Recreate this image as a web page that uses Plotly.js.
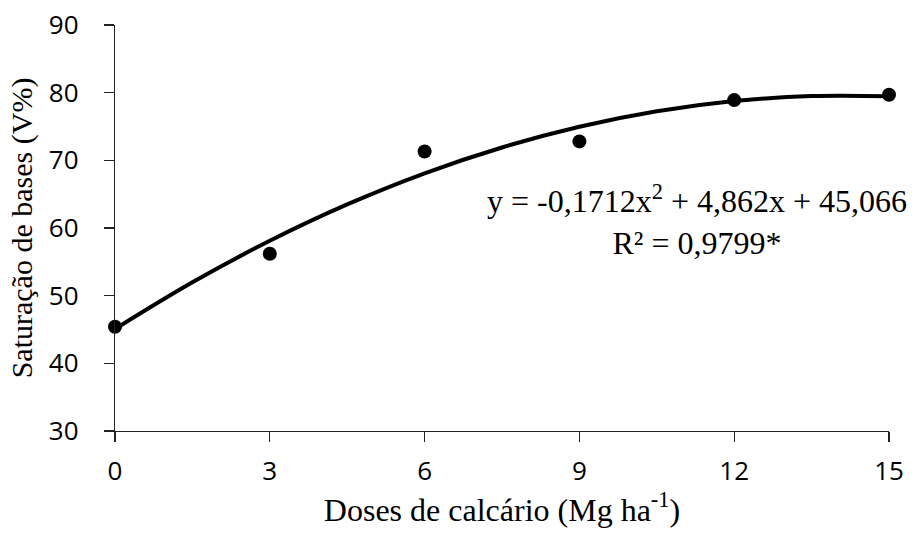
<!DOCTYPE html>
<html><head><meta charset="utf-8">
<script src="https://cdn.plot.ly/plotly-3.0.1.min.js"></script>
<style>html,body{margin:0;padding:0;background:#fff}</style>
</head><body><div id="chart" style="width:914px;height:536px"></div>
<script>
const doses = [0, 3, 6, 9, 12, 15];
const saturacao = [45.4, 56.2, 71.3, 72.8, 78.9, 79.7];
const trendX = [0, 1.5, 3, 4.5, 6, 7.5, 9, 10.5, 12, 13.5, 15];
const trendY = [45.07, 51.97, 58.11, 63.48, 68.08, 71.90, 74.96, 77.24, 78.76, 79.50, 79.48];
const xTicks = [0, 3, 6, 9, 12, 15];
const yTicks = [30, 40, 50, 60, 70, 80, 90];

const traces = [
  {x: trendX, y: trendY, mode: 'lines', line: {color: '#000', width: 4, shape: 'spline'}, hoverinfo: 'skip', cliponaxis: false},
  {x: doses, y: saturacao, mode: 'markers', marker: {color: '#000', size: 14}, cliponaxis: false}
];
const tickFont = {family: 'Open Sans, sans-serif', size: 26, color: '#000'};
const layout = {
  width: 914, height: 536,
  margin: {l: 115, r: 25, t: 25, b: 105},
  paper_bgcolor: '#fff', plot_bgcolor: '#fff',
  showlegend: false,
  xaxis: {range: [0, 15], tickvals: xTicks, ticks: 'outside', ticklen: 10, tickcolor: '#222', tickwidth: 1.3,
    showline: true, linecolor: '#222', linewidth: 1.3, showgrid: false, zeroline: false,
    tickfont: tickFont, ticklabelstandoff: 6, automargin: false,
    title: {text: 'Doses de calcário (Mg ha<sup>-1</sup>)', font: {family: 'Liberation Serif, serif', size: 32, color: '#000'}, standoff: 6}},
  yaxis: {range: [30, 90], tickvals: yTicks, ticks: 'outside', ticklen: 10, tickcolor: '#222', tickwidth: 1.3,
    showline: true, linecolor: '#222', linewidth: 1.3, showgrid: false, zeroline: false,
    tickfont: tickFont, ticklabelstandoff: 20, automargin: false,
    title: {text: 'Saturação de bases (V%)', font: {family: 'Liberation Serif, serif', size: 30, color: '#000'}, standoff: 7}},
  annotations: [
    {xref: 'paper', yref: 'paper', x: 0.752, y: 0.52, xanchor: 'center', yanchor: 'middle', showarrow: false, align: 'center',
     text: 'y = -0,1712x<sup>2</sup> + 4,862x + 45,066<br>R² = 0,9799*',
     font: {family: 'Liberation Serif, serif', size: 32, color: '#000'}}
  ]
};
Plotly.newPlot('chart', traces, layout, {displayModeBar: false, staticPlot: true});
</script></body></html>
